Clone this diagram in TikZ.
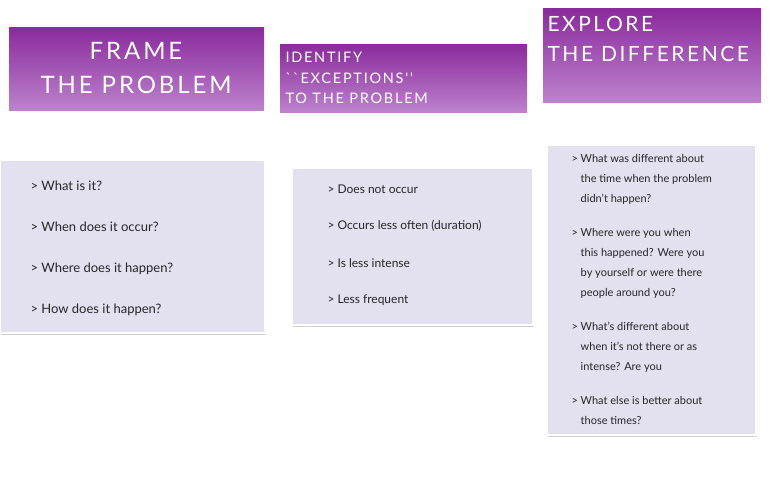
\documentclass[tikz,border=0pt]{standalone}
\usepackage{fontspec}
\setmainfont{Lato}
\newfontfamily\headfont[LetterSpace=12]{Lato}
\usetikzlibrary{shadows}
\definecolor{purpletop}{HTML}{8A2A9C}
\definecolor{purplebot}{HTML}{BC82CC}
\definecolor{lavender}{HTML}{E3E0F0}
\begin{document}
\begin{tikzpicture}[x=1pt,y=-1pt,
  header/.style={top color=purpletop, bottom color=purplebot, draw=none},
  panel/.style={fill=lavender, draw=white, line width=1.5pt, drop shadow={shadow xshift=1pt, shadow yshift=-2pt, opacity=.35}},
  item/.style={anchor=west, font=\fontsize{13}{15}\selectfont, text=black!85},
  head/.style={text=white, font=\headfont\fontsize{24}{34}\selectfont, align=center}]
  \useasboundingbox[fill=white] (0,0) rectangle (769,479);
  % headers
  \shade[header] (9,27) rectangle (264,110);
  \node (Hframe) at (136,68) [head] {FRAME\\THE PROBLEM};
  \shade[header] (280,44) rectangle (527,112);
  \node (Hident) at (282,78) [head, anchor=west, align=left, font=\headfont\fontsize{14.5}{20.5}\selectfont] {IDENTIFY\\``EXCEPTIONS''\\TO THE PROBLEM};
  \shade[header] (543,8) rectangle (761,102);
  \node (Hexpl) at (544,39) [head, anchor=west, align=left, font=\headfont\fontsize{21}{30}\selectfont] {EXPLORE\\THE DIFFERENCE};
  % panels
  \draw[panel] (0,160) rectangle (265,333);
  \draw[panel] (292,168) rectangle (533,325);
  \draw[panel] (547,145) rectangle (756,435);
  % items
  \node (A1) at (27,186) [item] {> What is it?};
  \node (A2) at (27,227) [item] {> When does it occur?};
  \node (A3) at (27,269) [item] {> Where does it happen?};
  \node (A4) at (27,310) [item] {> How does it happen?};
  \node (B1) at (324,189) [item, font=\fontsize{12}{14}\selectfont] {> Does not occur};
  \node (B2) at (324,226) [item, font=\fontsize{12}{14}\selectfont] {> Occurs less often (duration)};
  \node (B3) at (324,263) [item, font=\fontsize{12}{14}\selectfont] {> Is less intense};
  \node (B4) at (324,300) [item, font=\fontsize{12}{14}\selectfont] {> Less frequent};
  \begin{scope}[every node/.style={item, font=\fontsize{11}{20}\selectfont, anchor=north west, align=left}]
    \node (C1) at (568,151) {> What was different about\\\phantom{> }the time when the problem\\\phantom{> }didn't happen?};
    \node (C2) at (568,225) {> Where were you when\\\phantom{> }this happened? Were you\\\phantom{> }by yourself or were there\\\phantom{> }people around you?};
    \node (C3) at (568,319) {> What's different about\\\phantom{> }when it's not there or as\\\phantom{> }intense? Are you};
    \node (C4) at (568,393) {> What else is better about\\\phantom{> }those times?};
  \end{scope}
\end{tikzpicture}
\end{document}
